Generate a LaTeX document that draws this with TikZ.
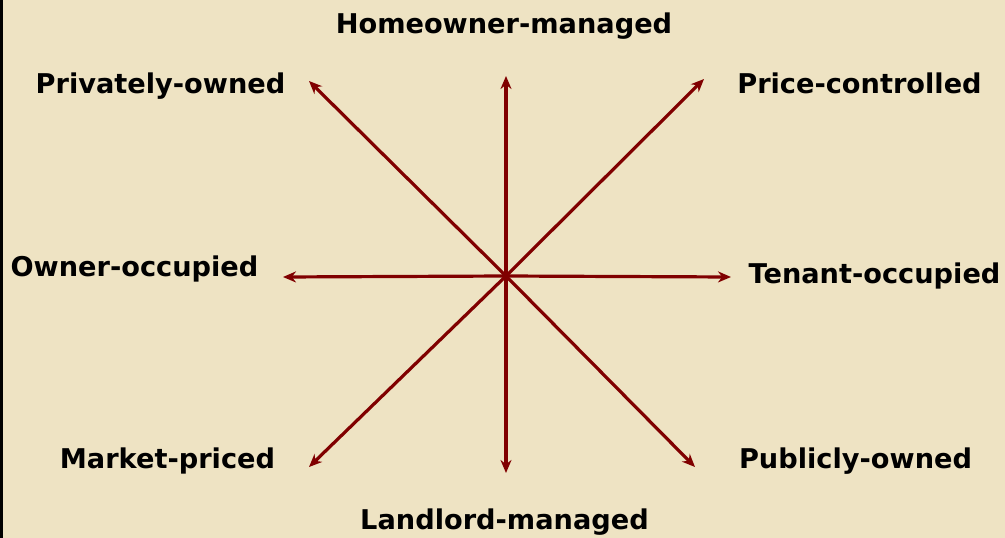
\documentclass[tikz,border=0pt]{standalone}
\usepackage{fontspec}
\setmainfont{DejaVu Sans}
\usetikzlibrary{arrows.meta}
\definecolor{parch}{RGB}{238,227,195}
\definecolor{arrowred}{RGB}{128,0,0}
\tikzset{
  lbl/.style={font=\bfseries\fontsize{27.2}{30}\selectfont, text=black, inner sep=0pt, anchor=base},
  axis/.style={draw=arrowred, line width=3.2pt, -{Stealth[length=13pt,width=11pt]}}
}
\begin{document}
\begin{tikzpicture}[x=1pt,y=-1pt]
\useasboundingbox (0,0) rectangle (1005,538);
\fill[parch] (0,0) rectangle (1005,538);
\fill[black] (0,0) rectangle (3,538);
\coordinate (c) at (506,276);
\coordinate (up) at (506,76);
\coordinate (dn) at (506,473);
\coordinate (lf) at (283,277);
\coordinate (rt) at (731,277);
\coordinate (nw) at (309,81);
\coordinate (ne) at (704,79);
\coordinate (sw) at (309,467);
\coordinate (se) at (695,467);
\draw[axis] (c) -- (up);
\draw[axis] (c) -- (dn);
\draw[axis] (c) -- (lf);
\draw[axis] (c) -- (rt);
\draw[axis] (c) -- (nw);
\draw[axis] (c) -- (ne);
\draw[axis] (c) -- (sw);
\draw[axis] (c) -- (se);
\node[lbl] (hm) at (504,33) {Homeowner-managed};
\node[lbl] (po) at (160.5,93.3) {Privately-owned};
\node[lbl] (pc) at (859.5,93.5) {Price-controlled};
\node[lbl] (oo) at (134.5,276.5) {Owner-occupied};
\node[lbl] (to) at (874.5,283.3) {Tenant-occupied};
\node[lbl] (mp) at (167.5,468.5) {Market-priced};
\node[lbl] (pb) at (855.5,468.5) {Publicly-owned};
\node[lbl] (lm) at (504.5,529.5) {Landlord-managed};
\end{tikzpicture}
\end{document}
